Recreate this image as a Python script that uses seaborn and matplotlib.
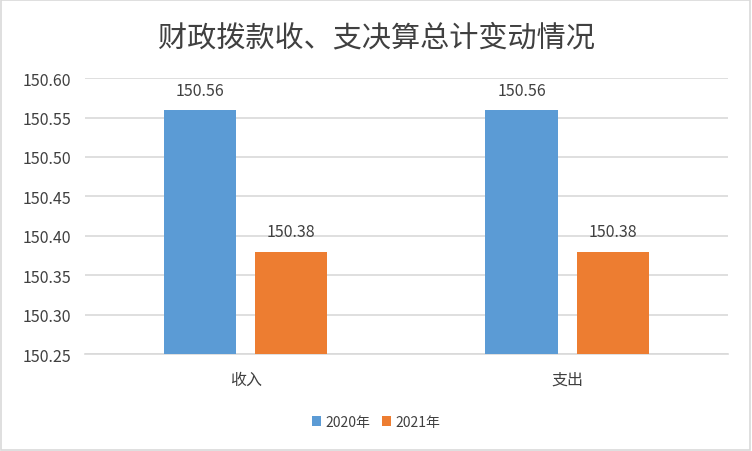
import matplotlib
matplotlib.use("Agg")
import matplotlib.pyplot as plt
import seaborn as sns
import pandas as pd
from matplotlib.patches import Rectangle

categories = ["收入", "支出"]
years = ["2020年", "2021年"]
values_2020 = [150.56, 150.56]
values_2021 = [150.38, 150.38]
title = "财政拨款收、支决算总计变动情况"

df = pd.DataFrame({
    "category": categories * 2,
    "year": [years[0]] * 2 + [years[1]] * 2,
    "value": values_2020 + values_2021,
})

sns.set_theme(style="white")
plt.rcParams['font.family'] = ['Noto Sans CJK SC', 'DejaVu Sans']

fig = plt.figure(figsize=(7.52, 4.52), dpi=100)
ax = fig.add_axes([0.113, 0.2146, 0.855, 0.6104])

palette = {years[0]: "#5B9BD5", years[1]: "#ED7D31"}
sns.barplot(data=df, x="category", y="value", hue="year", palette=palette,
            width=0.568, gap=0.21, ax=ax, saturation=1, legend=True, zorder=3,
            linewidth=0, edgecolor="none")

ax.set_ylim(150.25, 150.60)
ax.set_xlim(-0.5, 1.5)
ticks = [150.25 + 0.05 * i for i in range(8)]
ax.set_yticks(ticks)
ax.set_yticklabels([f"{t:.2f}" for t in ticks], fontsize=11.5, color="#404040")
ax.tick_params(axis="x", labelsize=11.5, colors="#404040", length=0, pad=12)
ax.tick_params(axis="y", length=0, pad=10)
ax.set_xlabel("")
ax.set_ylabel("")
ax.grid(axis="y", color="#D9D9D9", linewidth=1.2, zorder=0)
for s in ["top", "right", "left"]:
    ax.spines[s].set_visible(False)
ax.spines["bottom"].set_color("#D9D9D9")
ax.spines["bottom"].set_linewidth(1.2)

for container in ax.containers:
    ax.bar_label(container, fmt="%.2f", padding=8, fontsize=11.5, color="#404040")

handles, labels = ax.get_legend_handles_labels()
ax.legend(handles, labels, loc="center", bbox_to_anchor=(0.5, 0.065),
          bbox_transform=fig.transFigure, ncol=2, frameon=False, fontsize=10,
          handlelength=0.7, handleheight=0.7, handletextpad=0.3, columnspacing=0.8,
          labelcolor="#404040")

fig.text(0.5, 0.915, title, ha="center", va="center", fontsize=21, color="#404040")
fig.patches.append(Rectangle((0.001, 0.002), 0.997, 0.995, transform=fig.transFigure,
                             fill=False, edgecolor="#D9D9D9", linewidth=1.2))

fig.savefig("out.png", dpi=100)
